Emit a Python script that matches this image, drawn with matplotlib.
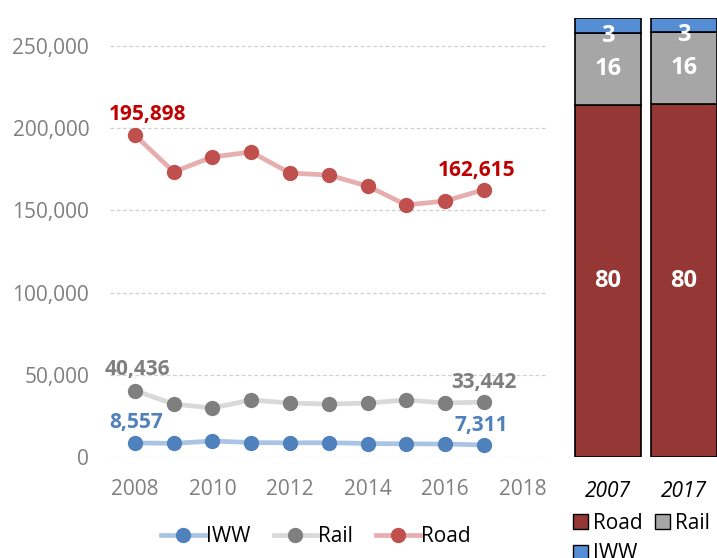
import numpy as np
import matplotlib.pyplot as plt
from matplotlib.lines import Line2D
from matplotlib.patches import Patch

plt.rcParams['font.family'] = ['Open Sans', 'DejaVu Sans']

years = [2008, 2009, 2010, 2011, 2012, 2013, 2014, 2015, 2016, 2017]
road = [195898, 173400, 182500, 185500, 172700, 171500, 164800, 153300, 155700, 162615]
rail = [40436, 32200, 29800, 34700, 32800, 32200, 32800, 34700, 32800, 33442]
iww = [8557, 8300, 9700, 8800, 8600, 8700, 8200, 8000, 7900, 7311]

bar_years = ["2007", "2017"]
share_road = [80.1, 80.4]
share_rail = [16.4, 16.4]
share_iww = [3.4, 3.2]

fig = plt.figure(figsize=(7.17, 5.58), dpi=100)

# line chart
ax = fig.add_axes([110/717, 1 - 457/558, 436/717, 437/558])
# name, values, marker colour, line colour, label colour, label x-offsets (first, last)
series = [
    ("IWW", iww, '#4f81bd', '#a9c4e4', '#4f81bd', (1, -2)),
    ("Rail", rail, '#7f7f7f', '#d9d9d9', '#7f7f7f', (2, 0)),
    ("Road", road, '#c0504d', '#e6aeae', '#c00000', (9, -5)),
]
for name, vals, mcol, lcol, tcol, dx in series:
    ax.plot(years, vals, color=lcol, lw=3.4, zorder=2, clip_on=False)
    ax.plot(years, vals, 'o', color=mcol, ms=10, zorder=3, clip_on=False)
    ax.annotate(f"{vals[0]:,}", (years[0], vals[0]), xytext=(dx[0], 15),
                textcoords='offset points', ha='center', va='center',
                color=tcol, fontsize=15, fontweight='bold')
    ax.annotate(f"{vals[-1]:,}", (years[-1], vals[-1]), xytext=(dx[1], 14),
                textcoords='offset points', ha='center', va='center',
                color=tcol, fontsize=15, fontweight='bold')

ax.set_xlim(2007.36, 2018.6)
ax.set_ylim(0, 265800)
ax.set_xticks(range(2008, 2019, 2))
ax.set_yticks(range(0, 250001, 50000))
ax.yaxis.set_major_formatter(plt.FuncFormatter(lambda v, p: f"{int(v):,}"))
ax.grid(axis='y', color='#d0d0d0', ls=(0, (3, 2)), lw=0.9)
ax.set_axisbelow(True)
for s in ax.spines.values():
    s.set_visible(False)
ax.tick_params(length=0, labelsize=15, colors='#7f7f7f')
ax.tick_params(axis='y', pad=15)
ax.tick_params(axis='x', pad=16)

handles = [Line2D([], [], color=lcol, lw=3.4, marker='o', ms=10,
                  markerfacecolor=mcol, markeredgecolor=mcol)
           for _, _, mcol, lcol, _, _ in series]
fig.legend(handles, [s[0] for s in series], loc='center', ncol=3,
           bbox_to_anchor=(316/717, 1 - 537/558), frameon=False,
           fontsize=15, handlelength=2.1, columnspacing=1.1, handletextpad=0.05)

# stacked bar chart
bx = fig.add_axes([570/717, 1 - 457/558, 152/717, 439/558])
x = np.arange(len(bar_years))
w = 0.87
road_c, rail_c, iww_c = '#953735', '#a6a6a6', '#558ed5'
bx.bar(x, share_road, w, color=road_c, edgecolor='black', lw=1.2)
bx.bar(x, share_rail, w, bottom=share_road, color=rail_c, edgecolor='black', lw=1.2)
bottom2 = np.array(share_road) + np.array(share_rail)
bx.bar(x, share_iww, w, bottom=bottom2, color=iww_c, edgecolor='black', lw=1.2)
for i in x:
    bx.text(i, share_road[i] / 2, f"{share_road[i]:.0f}", ha='center', va='center',
            color='white', fontsize=17, fontweight='bold')
    bx.text(i, share_road[i] + share_rail[i] / 2, f"{share_rail[i]:.0f}", ha='center',
            va='center', color='white', fontsize=17, fontweight='bold')
    bx.text(i, bottom2[i] + share_iww[i] / 2 - 2.3, f"{share_iww[i]:.0f}", ha='center',
            va='center', color='white', fontsize=17, fontweight='bold')
bx.set_xlim(-0.5, 1.5)
bx.set_ylim(0, 100)
bx.set_xticks(x)
bx.set_xticklabels(bar_years, fontstyle='italic', fontsize=15)
bx.set_yticks([])
for s in bx.spines.values():
    s.set_visible(False)
bx.tick_params(length=0, pad=17)

# column-wise fill: Road, IWW in col 1, Rail in col 2
bar_handles = [Patch(facecolor=road_c, edgecolor='black'),
               Patch(facecolor=iww_c, edgecolor='black'),
               Patch(facecolor=rail_c, edgecolor='black')]
fig.legend(bar_handles, ["Road", "IWW", "Rail"], loc='upper left', ncol=2,
           bbox_to_anchor=(573/717, 1 - 513/558), frameon=False, fontsize=15,
           handlelength=0.7, handleheight=0.7, handletextpad=0.25,
           columnspacing=0.6, labelspacing=0.45, borderaxespad=0, borderpad=0)

fig.savefig("out.png", dpi=100)
